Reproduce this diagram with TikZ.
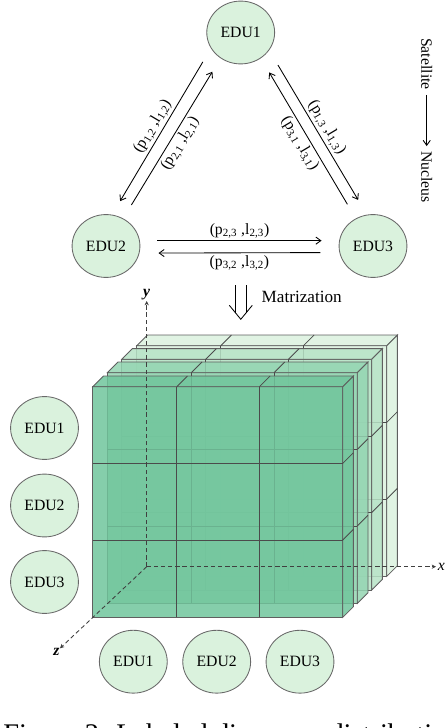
\documentclass[tikz,border=0pt]{standalone}
\usepackage{fontspec}
\setmainfont{Liberation Serif}
\usepackage{tikz}
\usetikzlibrary{shapes,arrows.meta}
\definecolor{edufill}{RGB}{218,242,221}
\definecolor{edudraw}{RGB}{105,105,105}
\definecolor{edgegray}{RGB}{95,95,95}
\definecolor{gridgray}{RGB}{75,75,75}
\definecolor{slabA}{RGB}{112,197,156}
\definecolor{slabB}{RGB}{148,213,178}
\definecolor{slabC}{RGB}{182,227,198}
\definecolor{slabD}{RGB}{218,241,222}
\newcommand{\edunode}[3] {\node at (#1) (#2) [ellipse, draw=edudraw, fill=edufill, minimum width=47.5pt, minimum height=44pt, inner sep=0pt] {#3};}
\newcommand{\edutransition}[5] {\draw [->, shorten <=#5, shorten >=#5] (#1) -- (#2) node [midway, sloped, #4, inner sep=1.5pt] {#3};}
\newcommand{\matslab}[2] {\begin{scope}[shift={(#1)}]
\filldraw [fill=#2, fill opacity=0.85, draw=edgegray] (0,0) rectangle (250,230.7);
\filldraw [fill=#2, fill opacity=0.85, draw=edgegray] (0,0) -- (10.7,-10.7) -- (260.7,-10.7) -- (250,0) -- cycle;
\filldraw [fill=#2, fill opacity=0.85, draw=edgegray] (250,0) -- (260.7,-10.7) -- (260.7,220) -- (250,230.7) -- cycle;
\draw [gridgray] (84,0) -- (84,230.7) (166.7,0) -- (166.7,230.7) (0,76.7) -- (250,76.7) (0,153.3) -- (250,153.3);
\draw [gridgray] (84,0) -- (94.7,-10.7) (166.7,0) -- (177.4,-10.7) (250,76.7) -- (260.7,66) (250,153.3) -- (260.7,142.6);
\end{scope}}

\begin{document}
\begin{tikzpicture}[x=0.7pt, y=-0.7pt, line width=0.6pt, font=\fontsize{11}{13}\selectfont,
  >={Straight Barb[length=3.5pt,width=5pt]},
  axisline/.style={dash pattern=on 3pt off 2pt, draw=black!75, -{Stealth[length=3pt,width=3pt]}}]
\useasboundingbox (0,0) rectangle (446,728);
\clip (0,0) rectangle (446,728);

\edunode{240.7,32.5}{edu1}{EDU1};
\edunode{106,246}{edu2}{EDU2};
\edunode{373,246}{edu3}{EDU3};

\edutransition{edu1.208}{edu2.79}{(p\textsubscript{1,2} ,l\textsubscript{1,2})}{above}{11pt};
\edutransition{edu2.58}{edu1.232}{(p\textsubscript{2,1} ,l\textsubscript{2,1})}{below}{11pt};
\edutransition{edu1.328}{edu3.101}{(p\textsubscript{1,3} ,l\textsubscript{1,3})}{above}{12pt};
\edutransition{edu3.122}{edu1.308}{(p\textsubscript{3,1} ,l\textsubscript{3,1})}{below}{11.5pt};
\edutransition{edu2.9}{edu3.171}{(p\textsubscript{2,3} ,l\textsubscript{2,3})}{above}{12.3pt};
\edutransition{edu3.191}{edu2.348}{(p\textsubscript{3,2} ,l\textsubscript{3,2})}{below}{13.3pt};

\node at (426.7,64) (sat) [rotate=-90] {Satellite};
\node at (426.7,177) (nuc) [rotate=-90] {Nucleus};
\draw [->] (sat) -- (nuc);

\coordinate (mtop) at (240.8,285);
\coordinate (mbot) at (240.8,319.3);
\draw ([xshift=-4.1pt]mtop) -- ++(0,28) ([xshift=4.1pt]mtop) -- ++(0,28);
\draw ([shift={(-11.5,-14)}]mbot) -- (mbot) -- ([shift={(11.5,-14)}]mbot);
\node at (256.5,297.3) (matr) [anchor=west, font=\fontsize{12}{14}\selectfont] {Matrization};

\matslab{136.7,345.7}{slabD}
\matslab{121.7,359.3}{slabC}
\matslab{107.3,372.7}{slabB}
\matslab{92.7,386.7}{slabA}

\coordinate (origin) at (146.7,566.7);
\coordinate (yend) at (146.7,301);
\coordinate (xend) at (436,566.7);
\coordinate (zend) at (60,648.3);
\draw [axisline] (origin) -- (yend);
\draw [axisline] (origin) -- (xend);
\draw [axisline] (origin) -- (zend);
\node at (yend) (ylab) [above, inner sep=0.5pt] {\textbf{\textit{y}}};
\node at (xend) (xlab) [right, inner sep=1pt] {\textit{x}};
\node at (zend) (zlab) [below left, inner sep=0pt] {\textbf{\textit{z}}};

\edunode{44.5,428}{row1}{EDU1};
\edunode{44.5,505.5}{row2}{EDU2};
\edunode{44.5,582}{row3}{EDU3};
\edunode{133.3,661.7}{col1}{EDU1};
\edunode{216.7,661.7}{col2}{EDU2};
\edunode{300,661.7}{col3}{EDU3};

\node at (3,743) (caption) [anchor=base west, inner sep=0pt, font=\fontsize{19.9}{24}\selectfont] {Figure 2: Labeled discourse distribution};
\end{tikzpicture}
\end{document}
